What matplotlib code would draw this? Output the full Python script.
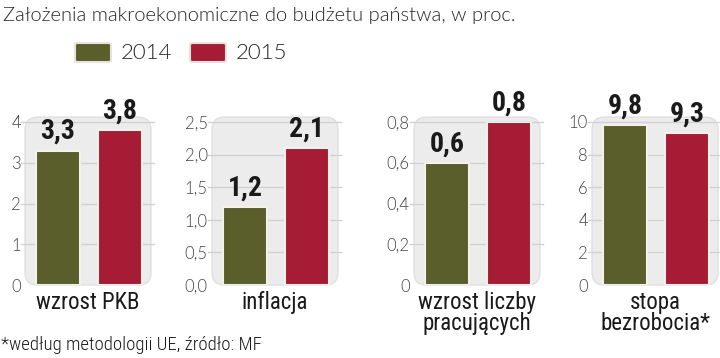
import matplotlib
matplotlib.use("Agg")
import matplotlib.pyplot as plt
from matplotlib.patches import FancyBboxPatch

# --- data ---
years = ["2014", "2015"]
panels = ["wzrost PKB", "inflacja", "wzrost liczby\npracujących", "stopa\nbezrobocia*"]
values_2014 = [3.3, 1.2, 0.6, 9.8]
values_2015 = [3.8, 2.1, 0.8, 9.3]
value_labels_2014 = ["3,3", "1,2", "0,6", "9,8"]
value_labels_2015 = ["3,8", "2,1", "0,8", "9,3"]
y_ticks = [
    [0, 1, 2, 3, 4],
    [0.0, 0.5, 1.0, 1.5, 2.0, 2.5],
    [0.0, 0.2, 0.4, 0.6, 0.8],
    [0, 2, 4, 6, 8, 10],
]
y_tick_labels = [
    ["0", "1", "2", "3", "4"],
    ["0,0", "0,5", "1,0", "1,5", "2,0", "2,5"],
    ["0", "0,2", "0,4", "0,6", "0,8"],
    ["0", "2", "4", "6", "8", "10"],
]
title = "Założenia makroekonomiczne do budżetu państwa, w proc."
footnote = "*według metodologii UE, źródło: MF"

GREEN = "#595e2b"
RED = "#a51c34"
BOX = "#ececec"
GRID = "#d2d2d2"
TEXT = "#262626"

W, H = 720, 358
fig = plt.figure(figsize=(7.2, 3.58), dpi=100)
fig.patch.set_facecolor("white")

LIGHT = dict(family=["Lato", "DejaVu Sans"], fontweight=300)
NARROW = dict(family=["Roboto Condensed", "DejaVu Sans"])

# panel left edges in px
lefts = [25, 212, 414, 592]
box_w = 126
top_px, bot_px = 122, 285

for i in range(4):
    ax = fig.add_axes([lefts[i] / W, (H - bot_px) / H, box_w / W, (bot_px - top_px) / H])
    ax.set_facecolor("none")
    ymax = y_ticks[i][-1]
    ax.set_ylim(0, ymax)
    ax.set_xlim(-0.53, 1.50)

    bg = FancyBboxPatch((0, 0), 1, 1.03, boxstyle="round,pad=0,rounding_size=0.1",
                        mutation_aspect=box_w / (bot_px - top_px),
                        transform=ax.transAxes, facecolor=BOX, edgecolor="#e0e0e0",
                        lw=1.0, zorder=0, clip_on=False)
    ax.add_patch(bg)
    for t in y_ticks[i][1:]:
        ax.axhline(t, color=GRID, lw=1.0, zorder=1, xmin=-0.03, xmax=1.02, clip_on=False)

    ax.bar([0, 1], [values_2014[i], values_2015[i]], width=0.7,
           color=[GREEN, RED], edgecolor="#f4f1ea", linewidth=1.5, zorder=2)

    for x, v, lab in [(0, values_2014[i], value_labels_2014[i]),
                      (1, values_2015[i], value_labels_2015[i])]:
        ax.annotate(lab, (x, v), xytext=(0, 4), textcoords="offset points",
                    ha="center", va="bottom", fontsize=20, fontweight="bold",
                    color="#1a1a1a", annotation_clip=False, **NARROW)

    ax.set_yticks(y_ticks[i])
    ax.set_yticklabels(y_tick_labels[i], fontsize=12, color="#444444", **LIGHT)
    ax.tick_params(axis="y", length=0, pad=3)
    ax.set_xticks([])
    for s in ax.spines.values():
        s.set_visible(False)

    ax.text(0.5, -0.035, panels[i], transform=ax.transAxes, ha="center", va="top",
            fontsize=16.5, color="#1a1a1a", linespacing=0.92, **NARROW)

# title
fig.text(3 / W, 1 - 16 / H, title, ha="left", va="center", fontsize=14.5,
         color=TEXT, **LIGHT)

# legend
for x0, c, lab in [(75, GREEN, years[0]), (190, RED, years[1])]:
    fig.patches.append(FancyBboxPatch((x0 / W, 1 - 62 / H), 36 / W, 19 / H,
                                      boxstyle="round,pad=0,rounding_size=0.004",
                                      transform=fig.transFigure, facecolor=c,
                                      edgecolor="#e6e3da", lw=1.5))
    fig.text((x0 + 46) / W, 1 - 53 / H, lab, ha="left", va="center", fontsize=16,
             color=TEXT, **LIGHT)

fig.text(1 / W, 1 - 345 / H, footnote, ha="left", va="center", fontsize=13.5,
         color="#1a1a1a", family=["Roboto Condensed", "DejaVu Sans"], fontweight=300)

fig.savefig("out.png", dpi=100)
